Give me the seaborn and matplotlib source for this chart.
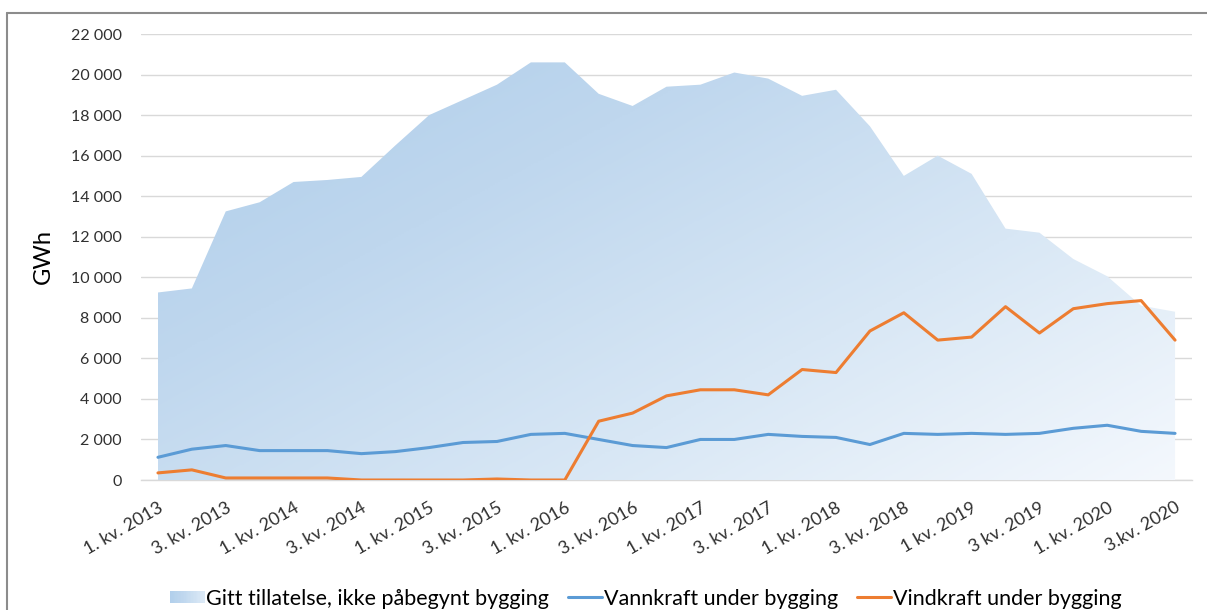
import numpy as np
import pandas as pd
import matplotlib
matplotlib.use("Agg")
import matplotlib.pyplot as plt
import seaborn as sns
from matplotlib.colors import LinearSegmentedColormap
from matplotlib.patches import Rectangle, Patch
from matplotlib.legend_handler import HandlerBase
from matplotlib.lines import Line2D
import matplotlib.ticker as mticker

# ---------------- data ----------------
quarters = [f"{q}. kv. {y}" for y in range(2013, 2021) for q in (1, 2, 3, 4)][:31]

tick_labels = ["1. kv. 2013", "3. kv. 2013", "1. kv. 2014", "3. kv. 2014",
               "1. kv. 2015", "3. kv. 2015", "1. kv. 2016", "3. kv. 2016",
               "1. kv. 2017", "3. kv. 2017", "1. kv. 2018", "3. kv. 2018",
               "1 kv. 2019", "3 kv. 2019", "1. kv. 2020", "3.kv. 2020"]

tillatelse = [9250, 9450, 13250, 13700, 14700, 14800, 14950, 16500, 18000, 18750,
              19500, 20600, 20600, 19050, 18450, 19400, 19500, 20100, 19800, 18950,
              19250, 17450, 15000, 16000, 15100, 12400, 12200, 10900, 10050, 8600,
              8300]

vannkraft = [1120, 1520, 1700, 1450, 1450, 1450, 1300, 1400, 1600, 1850,
             1900, 2250, 2300, 2000, 1700, 1600, 2000, 2000, 2250, 2150,
             2100, 1750, 2300, 2250, 2300, 2250, 2300, 2550, 2700, 2400,
             2300]

vindkraft = [350, 500, 100, 100, 100, 100, 0, 0, 0, 0,
             50, 0, 0, 2900, 3300, 4150, 4450, 4450, 4200, 5450,
             5300, 7350, 8250, 6900, 7050, 8550, 7250, 8450, 8700, 8850,
             6900]

series_names = ["Gitt tillatelse, ikke påbegynt bygging",
                "Vannkraft under bygging",
                "Vindkraft under bygging"]

# ---------------- style ----------------
sns.set_theme(style="white")
plt.rcParams["font.family"] = ["Lato", "DejaVu Sans"]

BLUE = "#5b9bd5"
ORANGE = "#ed7d31"
TEXT = "#303030"
GRID = "#d9d9d9"
grad_cmap = LinearSegmentedColormap.from_list(
    "g", ["#acccea", "#bfd7ee", "#d8e7f5", "#f4f8fd"])

W, H = 1207, 610
fig = plt.figure(figsize=(W / 100, H / 100), dpi=100)
ax = fig.add_axes([141 / W, 1 - 480 / H, (1192 - 141) / W, (480 - 34) / H])

x = np.arange(len(quarters))
df = pd.DataFrame({"x": x, "tillatelse": tillatelse,
                   "vannkraft": vannkraft, "vindkraft": vindkraft})

# gradient area
coll = ax.fill_between(df["x"], 0, df["tillatelse"], facecolor="none",
                       edgecolor="none", zorder=1)
ny, nx = 300, 400
gx = np.linspace(0, 1, nx)[None, :]
gy = np.linspace(0, 1, ny)[:, None]
grad = 0.55 * gx + 0.45 * gy
im = ax.imshow(grad, cmap=grad_cmap, vmin=0, vmax=1, origin="upper",
               extent=(x[0], x[-1], 0, 22000), aspect="auto", zorder=1,
               interpolation="bilinear")
im.set_clip_path(coll.get_paths()[0], transform=ax.transData)

sns.lineplot(data=df, x="x", y="vannkraft", ax=ax, color=BLUE, lw=2.2,
             zorder=3, legend=False)
sns.lineplot(data=df, x="x", y="vindkraft", ax=ax, color=ORANGE, lw=2.2,
             zorder=4, legend=False)

# axes
ax.set_xlim(-0.5, len(quarters) - 0.5)
ax.set_ylim(0, 22000)
ax.set_yticks(np.arange(0, 22001, 2000))
ax.yaxis.set_major_formatter(
    mticker.FuncFormatter(lambda v, p: f"{int(v):,}".replace(",", " ")))
ax.grid(axis="y", color=GRID, lw=1.0, zorder=0)
ax.set_axisbelow(True)
for s in ["top", "right", "left"]:
    ax.spines[s].set_visible(False)
ax.spines["bottom"].set_color(GRID)
ax.spines["bottom"].set_linewidth(1.0)
ax.spines["bottom"].set_zorder(0.5)
ax.tick_params(axis="y", length=0, pad=14, labelsize=11.5, labelcolor=TEXT)
ax.tick_params(axis="x", length=0, pad=14, labelsize=13, labelcolor=TEXT)

ax.set_xticks(x[::2])
ax.set_xticklabels(tick_labels, rotation=30, ha="right", va="top",
                   rotation_mode="anchor")
ax.set_xlabel("")
ax.set_ylabel("GWh", fontsize=17, color="#000000", labelpad=12)

# figure frame (left and top border)
fig.add_artist(Line2D([7 / W, 7 / W], [0, 1 - 12.5 / H], transform=fig.transFigure,
                      color="#8c8c8c", lw=1.5))
fig.add_artist(Line2D([7 / W, 1], [1 - 12.5 / H, 1 - 12.5 / H],
                      transform=fig.transFigure, color="#8c8c8c", lw=1.5))


# legend
class GradientHandler(HandlerBase):
    def create_artists(self, legend, orig_handle, xdescent, ydescent,
                       width, height, fontsize, trans):
        n = 24
        arts = []
        h = height * 0.8
        y0 = -ydescent + (height - h) / 2
        for i in range(n):
            r = Rectangle((-xdescent + i * width / n, y0), width / n + 0.3, h,
                          facecolor=grad_cmap(0.1 + 0.6 * i / (n - 1)),
                          edgecolor="none", transform=trans)
            arts.append(r)
        return arts


h_area = Patch(facecolor="#c3d9ee", label=series_names[0])
h_v = Line2D([], [], color=BLUE, lw=2.2, label=series_names[1])
h_w = Line2D([], [], color=ORANGE, lw=2.2, label=series_names[2])
leg = fig.legend(handles=[h_area, h_v, h_w], labels=series_names,
                 loc="center", bbox_to_anchor=(0.535, 1 - 599 / H), ncol=3,
                 frameon=False, fontsize=15.5, handlelength=1.6,
                 handletextpad=0.1, columnspacing=0.85,
                 handler_map={Patch: GradientHandler()})
for t in leg.get_texts():
    t.set_color("#000000")

fig.savefig("out.png", dpi=100)
